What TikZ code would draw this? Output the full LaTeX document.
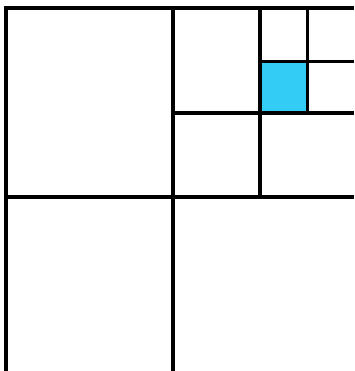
\documentclass[tikz,border=0pt]{standalone}
\usepackage{tikz}
\definecolor{cellblue}{RGB}{51,204,245}

\begin{document}
\begin{tikzpicture}[
            x=1pt, y=-1pt,
            grid/.style={draw=black, line width=4pt},
            subgrid/.style={draw=black, line width=3.5pt},
            finegrid/.style={draw=black, line width=3pt},
            hit/.style={fill=cellblue}
        ]
            % --- 枠 ---
            \useasboundingbox (0,0) rectangle (354,371);

            % --- 選択されたセル ---
            \fill[hit] (260,62) rectangle (307,113);

            % --- 第1レベル ---
            \draw[grid] (6,371) -- (6,8) -- (354,8);
            \draw[grid] (173,8) -- (173,371);
            \draw[grid] (6,197) -- (354,197);

            % --- 第2レベル (右上) ---
            \draw[subgrid] (260,8) -- (260,197);
            \draw[subgrid] (173,113) -- (354,113);

            % --- 第3レベル ---
            \draw[finegrid] (307,8) -- (307,113);
            \draw[finegrid] (260,62) -- (354,62);
        \end{tikzpicture}
\end{document}
